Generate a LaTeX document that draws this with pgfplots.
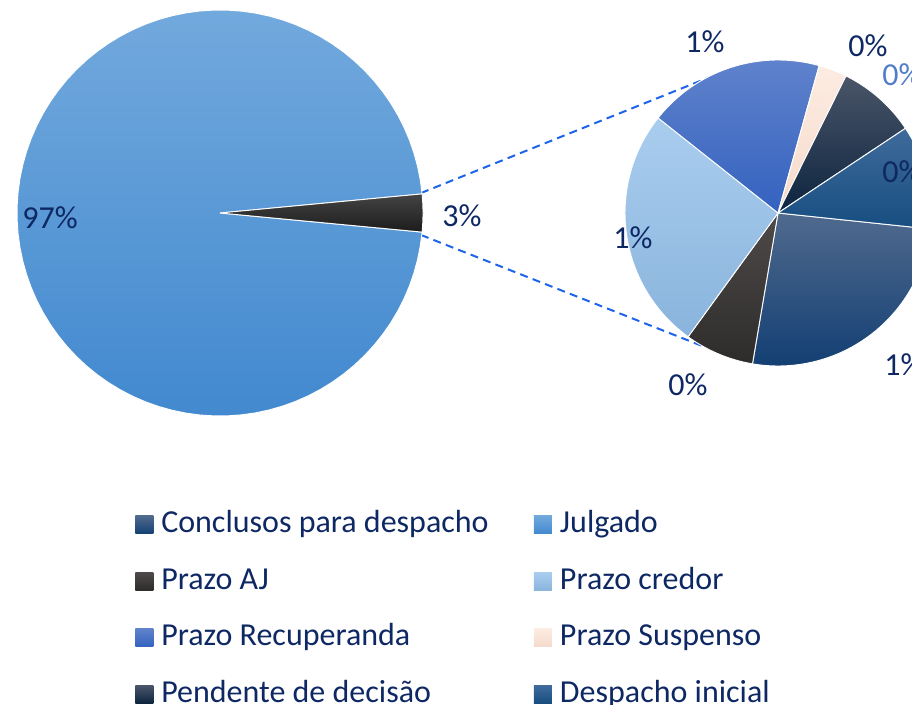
\documentclass[border=0pt]{standalone}
\usepackage{pgfplots}
\pgfplotsset{compat=1.18}
\usepackage{fontspec}
\setmainfont{Carlito}
\definecolor{navy}{RGB}{14,40,100}
\definecolor{lblue}{RGB}{80,126,200}
\definecolor{dashblue}{RGB}{30,100,235}
% colours (top, bottom)
\definecolor{julT}{RGB}{114,169,221}\definecolor{julB}{RGB}{66,137,207}
\definecolor{blkT}{RGB}{68,68,68}\definecolor{blkB}{RGB}{28,28,28}
\definecolor{conT}{RGB}{80,106,142}\definecolor{conB}{RGB}{19,63,115}
\definecolor{ajT}{RGB}{77,74,73}\definecolor{ajB}{RGB}{46,44,42}
\definecolor{creT}{RGB}{169,205,238}\definecolor{creB}{RGB}{138,180,221}
\definecolor{recT}{RGB}{95,130,204}\definecolor{recB}{RGB}{52,98,191}
\definecolor{susT}{RGB}{253,236,226}\definecolor{susB}{RGB}{244,218,203}
\definecolor{penT}{RGB}{74,85,104}\definecolor{penB}{RGB}{12,36,63}
\definecolor{desT}{RGB}{63,107,156}\definecolor{desB}{RGB}{23,77,128}
% data (percent of total)
\def\vJul{97}\def\vRest{3}
\def\vCon{0.78}\def\vAJ{0.22}\def\vCre{0.77}\def\vRec{0.56}
\def\vSus{0.09}\def\vPen{0.25}\def\vDes{0.33}
% angles
\pgfmathsetmacro\hA{\vRest*3.6/2}
\pgfmathsetmacro\jA{\hA}\pgfmathsetmacro\jB{360-\hA}
\pgfmathsetmacro\k{360/\vRest}
\pgfmathsetmacro\sA{354}
\pgfmathsetmacro\sB{\sA-\vCon*\k}
\pgfmathsetmacro\sC{\sB-\vAJ*\k}
\pgfmathsetmacro\sD{\sC-\vCre*\k}
\pgfmathsetmacro\sE{\sD-\vRec*\k}
\pgfmathsetmacro\sF{\sE-\vSus*\k}
\pgfmathsetmacro\sG{\sF-\vPen*\k}
\pgfmathsetmacro\sH{\sG-\vDes*\k}
\newcommand{\pieslice}[7]{%
  \addplot[forget plot, draw=white, line width=0.7pt, top color=#6, bottom color=#7,
    domain=#4:#5, samples=90, variable=\t, no markers]
  ({#1+#3*cos(\t)},{#2+#3*sin(\t)}) -- (axis cs:#1,#2) -- cycle;
}
\newcommand{\lab}{\fontsize{24}{28}\selectfont}
\begin{document}
\begin{tikzpicture}
\begin{axis}[
  scale only axis, width=684pt, height=528pt,
  xmin=0, xmax=912, ymin=0, ymax=704,
  hide axis, clip=true,
  legend columns=2, legend cell align=left,
  legend image code/.code={\path[#1, draw=none] (0pt,-6.75pt) rectangle (13.5pt,6.75pt);},
  legend style={at={(axis cs:131,196.7)}, anchor=north west, draw=none, fill=none,
     font=\lab, row sep=20.4pt, column sep=6pt,
     nodes={inner sep=0pt, text=navy, text height=17pt, text depth=5pt},
     /tikz/every even column/.append style={column sep=34pt}},
]
% series lines
\addplot[forget plot, color=dashblue, line width=1.5pt, dash pattern=on 6pt off 4pt] coordinates {(421,511) (720,631)};
\addplot[forget plot, color=dashblue, line width=1.5pt, dash pattern=on 6pt off 4pt] coordinates {(421,469) (720,351)};
% main pie
\pieslice{220}{491}{203}{\jA}{\jB}{julT}{julB}
\pieslice{220}{491}{203}{-\hA}{\hA}{blkT}{blkB}
% second pie
\pieslice{778}{491}{153}{\sB}{\sA}{conT}{conB}
\pieslice{778}{491}{153}{\sC}{\sB}{ajT}{ajB}
\pieslice{778}{491}{153}{\sD}{\sC}{creT}{creB}
\pieslice{778}{491}{153}{\sE}{\sD}{recT}{recB}
\pieslice{778}{491}{153}{\sF}{\sE}{susT}{susB}
\pieslice{778}{491}{153}{\sG}{\sF}{penT}{penB}
\pieslice{778}{491}{153}{\sH}{\sG}{desT}{desB}
% legend
\addlegendimage{top color=conT, bottom color=conB}\addlegendentry{Conclusos para despacho}
\addlegendimage{top color=julT, bottom color=julB}\addlegendentry{Julgado}
\addlegendimage{top color=ajT, bottom color=ajB}\addlegendentry{Prazo AJ}
\addlegendimage{top color=creT, bottom color=creB}\addlegendentry{Prazo credor}
\addlegendimage{top color=recT, bottom color=recB}\addlegendentry{Prazo Recuperanda}
\addlegendimage{top color=susT, bottom color=susB}\addlegendentry{Prazo Suspenso}
\addlegendimage{top color=penT, bottom color=penB}\addlegendentry{Pendente de decisão}
\addlegendimage{top color=desT, bottom color=desB}\addlegendentry{Despacho inicial}
% data labels
\node[font=\lab, text=navy, inner sep=0pt] at (axis cs:50,486.5) {97\%};
\node[font=\lab, text=navy, inner sep=0pt] at (axis cs:462,488.5) {3\%};
\node[font=\lab, text=navy, inner sep=0pt] at (axis cs:705,662) {1\%};
\node[font=\lab, text=navy, inner sep=0pt] at (axis cs:868,658) {0\%};
\node[font=\lab, text=lblue, inner sep=0pt] at (axis cs:902,629) {0\%};
\node[font=\lab, text=navy, inner sep=0pt] at (axis cs:902,532) {0\%};
\node[font=\lab, text=navy, inner sep=0pt] at (axis cs:633,466) {1\%};
\node[font=\lab, text=navy, inner sep=0pt] at (axis cs:688,319) {0\%};
\node[font=\lab, text=navy, inner sep=0pt] at (axis cs:904,339) {1\%};
\end{axis}
\pgfresetboundingbox
\useasboundingbox (current axis.south west) rectangle (current axis.north east);
\end{tikzpicture}
\end{document}
